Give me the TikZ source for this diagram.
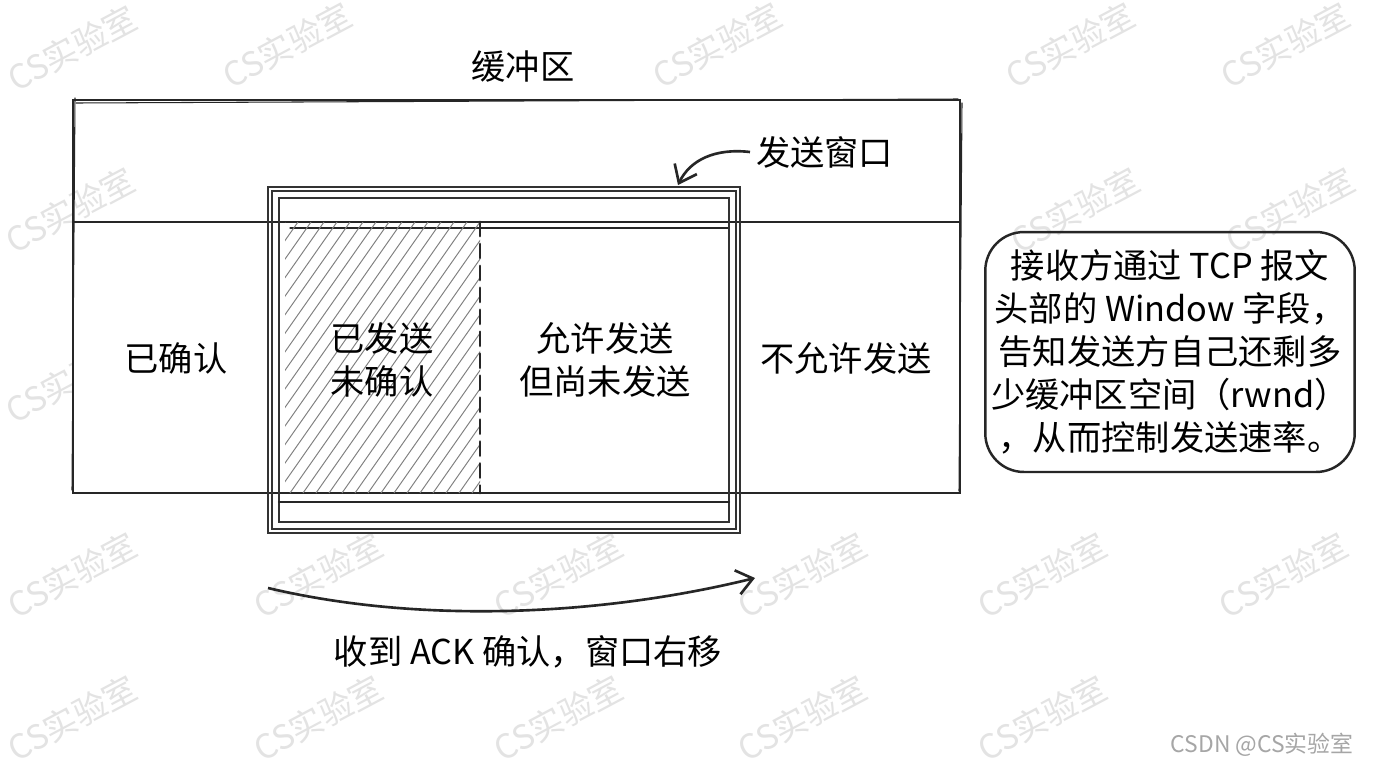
\documentclass[tikz,border=0pt]{standalone}
\usepackage{fontspec}
\setmainfont{Noto Sans CJK SC}
\usetikzlibrary{arrows.meta,positioning}

\tikzset{
  sketch/.style={draw=black!85, line width=1.2pt, line cap=round},
  winline/.style={draw=black!80, line width=1.4pt},
  hatchline/.style={draw=black!50, line width=0.55pt},
  txt/.style={font=\fontsize{19.5}{24.5}\selectfont, align=center, text=black},
  wmark/.style={font=\fontsize{19}{19}\selectfont, text=black!11, rotate=28},
  barb/.style={-{Straight Barb[length=9pt,width=14pt]}, line width=1.5pt, draw=black!85},
}

\begin{document}
\begin{tikzpicture}[x=0.02cm, y=-0.02cm]
  \useasboundingbox[fill=white] (0,0) rectangle (1376,768);

  % watermarks behind the drawing
  \foreach \px/\py in {72/48, 287/45, 717/45, 1070/45, 1285/45,
                       1075/210, 1290/210, 70/380,
                       72/575, 318/575, 558/575, 802/575, 1042/575, 1283/575,
                       72/718, 318/718, 558/718, 802/718, 1042/718}
    \node[wmark] (wm-\px-\py) at (\px,\py) {CS实验室};

  % buffer
  \fill[white] (73,100) rectangle (960,493);
  \node[wmark] (wm-70-210) at (70,210) {CS实验室};
  \node[txt] (buf-title) at (523,67) {缓冲区};
  \draw[sketch] (73,100) rectangle (960,493);
  \draw[sketch, line width=0.6pt] (76,103) -- (958,99);
  \draw[sketch, line width=0.6pt] (75,98) -- (72,490);
  \draw[sketch, line width=0.6pt] (962,103) -- (959,491);
  \draw[sketch] (73,222) -- (960,222);
  \draw[sketch, line width=0.6pt] (290,228) -- (729,228);

  % sent but not acked: hatched
  \begin{scope}
    \clip (285,222) rectangle (480,493);
    \foreach \s in {95,108,...,480}
      \draw[hatchline] (\s,493) -- ++(190,-271);
  \end{scope}
  \draw[sketch, line width=1.6pt, dash pattern=on 8pt off 4.5pt] (480,222) -- (480,493);

  % send window
  \draw[winline] (268,187) rectangle (740,533);
  \draw[winline, line width=0.9pt] (272,191) rectangle (736,529);
  \draw[winline] (279,198) rectangle (729,522);
  \draw[sketch] (279,502) -- (729,502);

  \coordinate (win-top) at (678,185);
  \node[txt, anchor=west] (win-label) at (750,152) {发送窗口};
  \draw[barb] (win-label.west) .. controls (715,148) and (690,160) .. (win-top);

  % regions
  \node[txt] (acked) at (176,358) {已确认};
  \node[txt] (sent) at (382,360) {已发送\\未确认};
  \node[txt] (usable) at (605,360) {允许发送\\但尚未发送};
  \node[txt] (blocked) at (846,358) {不允许发送};

  % note on rwnd
  \node[txt, draw=black!85, line width=1.4pt, rounded corners=22pt,
        minimum width=7.2cm, minimum height=4.8cm] (rwnd-note) at (1170,352)
    {接收方通过 TCP 报文\\头部的 Window 字段，\\告知发送方自己还剩多\\少缓冲区空间（rwnd）\\，从而控制发送速率。};

  % window slides right
  \coordinate (shift-start) at (268,588);
  \coordinate (shift-end) at (755,578);
  \draw[barb] (shift-start) .. controls (420,624) and (600,616) .. (shift-end);
  \node[txt] (shift-label) at (528,652) {收到 ACK 确认，窗口右移};

  \node[font=\fontsize{13}{13}\selectfont, text=black!35] (csdn) at (1262,745) {CSDN @CS实验室};
\end{tikzpicture}
\end{document}
